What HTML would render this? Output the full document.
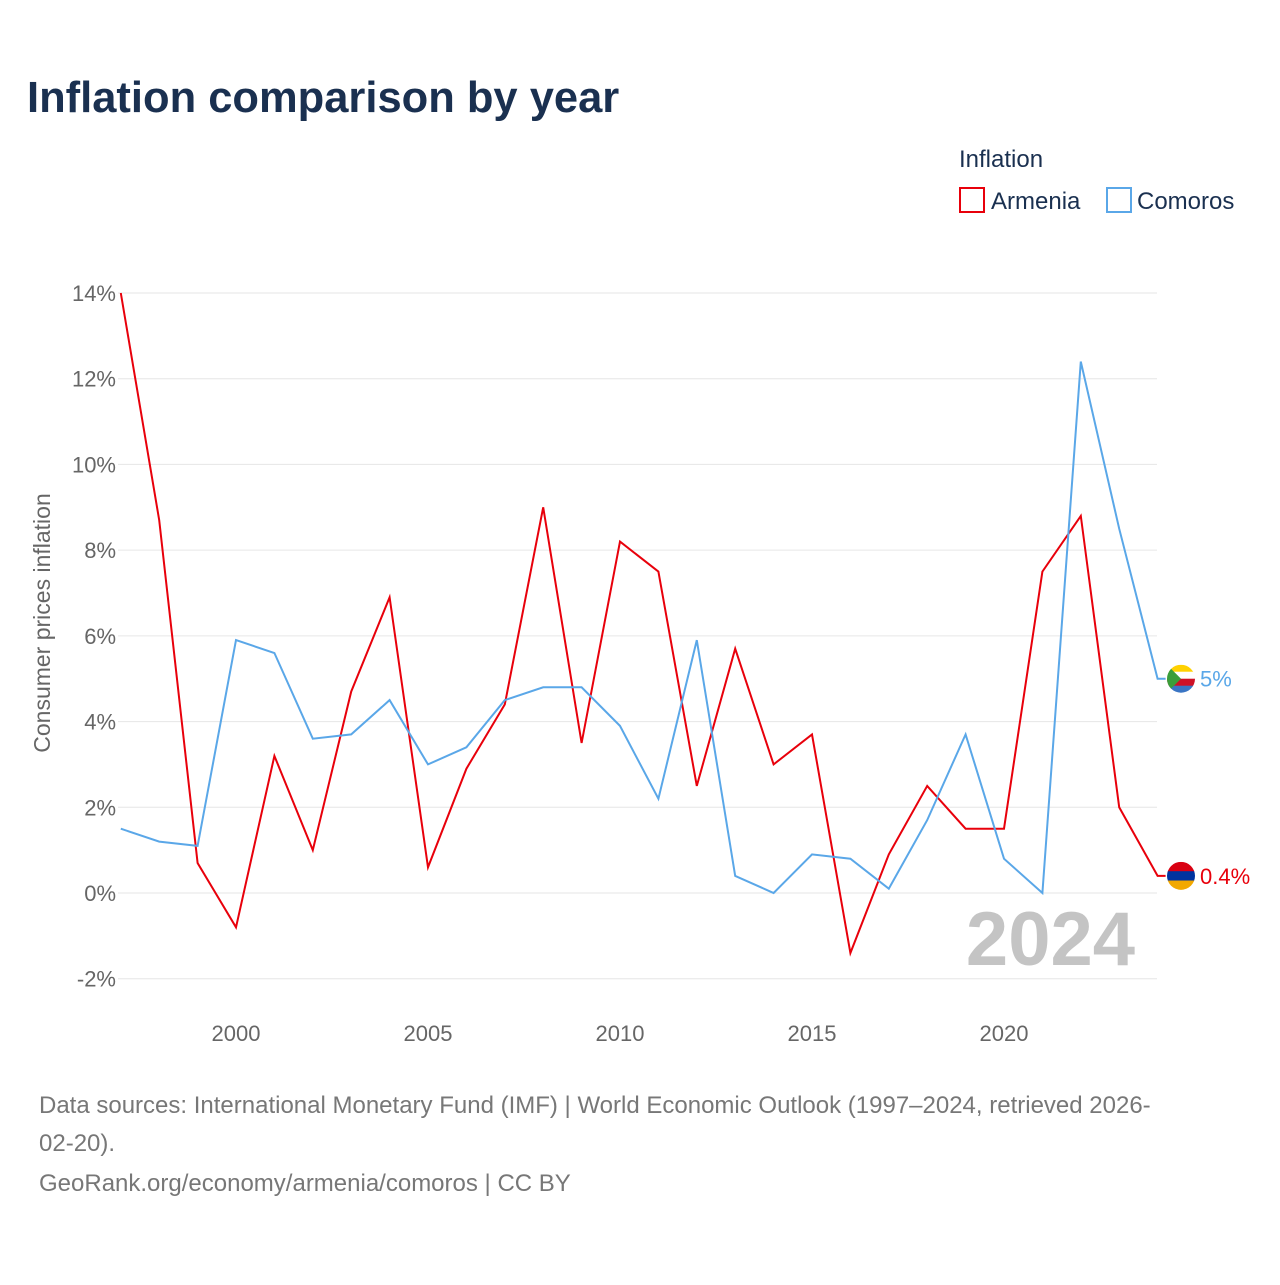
<!DOCTYPE html>
<html><head><meta charset="utf-8"><style>
body{margin:0;background:#fff;font-family:"Liberation Sans",sans-serif;}
svg text{font-family:"Liberation Sans",sans-serif;}
</style></head><body>
<svg id="chart" width="1280" height="1280" xmlns="http://www.w3.org/2000/svg">
<rect width="1280" height="1280" fill="#fff"/>
<text x="27" y="112" font-size="43.5" font-weight="bold" fill="#1a3050">Inflation comparison by year</text>
<text x="959" y="167" font-size="24" fill="#1a3050">Inflation</text>
<g><rect x="960" y="188" width="24" height="24" fill="none" stroke="#e8000b" stroke-width="2"/><text x="991" y="209" font-size="24" fill="#1a3050">Armenia</text></g>
<g><rect x="1107" y="188" width="24" height="24" fill="none" stroke="#5aa7e8" stroke-width="2"/><text x="1137" y="209" font-size="24" fill="#1a3050">Comoros</text></g>
<g id="grid"></g><g id="ticks"></g>
<text transform="translate(50,623) rotate(-90)" text-anchor="middle" font-size="23" fill="#666">Consumer prices inflation</text>
<text x="1135" y="965" text-anchor="end" font-size="76" font-weight="bold" fill="#c4c4c4">2024</text>
<g id="series"></g>
<text font-size="24" fill="#777"><tspan x="39" y="1113">Data sources: International Monetary Fund (IMF) | World Economic Outlook (1997–2024, retrieved 2026-</tspan><tspan x="39" y="1151">02-20).</tspan><tspan x="39" y="1191">GeoRank.org/economy/armenia/comoros | CC BY</tspan></text>
</svg>
<script>
const years=[1997,1998,1999,2000,2001,2002,2003,2004,2005,2006,2007,2008,2009,2010,2011,2012,2013,2014,2015,2016,2017,2018,2019,2020,2021,2022,2023,2024];
const armenia=[14.0,8.7,0.7,-0.8,3.2,1.0,4.7,6.9,0.6,2.9,4.4,9.0,3.5,8.2,7.5,2.5,5.7,3.0,3.7,-1.4,0.9,2.5,1.5,1.5,7.5,8.8,2.0,0.4];
const comoros=[1.5,1.2,1.1,5.9,5.6,3.6,3.7,4.5,3.0,3.4,4.5,4.8,4.8,3.9,2.2,5.9,0.4,0.0,0.9,0.8,0.1,1.7,3.7,0.8,0.0,12.4,8.5,5.0];
const yTicks=[-2,0,2,4,6,8,10,12,14];
const xTicks=[2000,2005,2010,2015,2020];
const NS="http://www.w3.org/2000/svg";
const x=v=>236+(v-2000)*38.4;
const y=v=>893-v*(600/14);
function mk(t,a,p){const e=document.createElementNS(NS,t);for(const k in a)e.setAttribute(k,a[k]);p.appendChild(e);return e;}
const grid=document.getElementById('grid'),ticks=document.getElementById('ticks'),ser=document.getElementById('series');
yTicks.forEach(v=>{
 const l=mk('line',{x1:118,x2:1157,y1:y(v),y2:y(v),stroke:'#e6e6e6','stroke-width':1},grid);
 
 
 const t=mk('text',{x:116,y:y(v)+8,'text-anchor':'end','font-size':22,fill:'#666'},ticks);
 t.textContent=v+'%';
 
 
});
xTicks.forEach(v=>{
 const t=mk('text',{x:x(v),y:1041,'text-anchor':'middle','font-size':22,fill:'#666'},ticks);
 t.textContent=v;
 
 
});
function line(data,color,name){
 let d=data.map((v,i)=>(i?'L':'M')+x(years[i]).toFixed(1)+' '+y(v).toFixed(1)).join(' ');
 const last=data[data.length-1];
 d+=' L'+(x(years[years.length-1])+8)+' '+y(last).toFixed(1);
 const p=mk('path',{d:d,fill:'none',stroke:color,'stroke-width':2},ser);
 
 
 return y(last);
}
const ya=line(armenia,'#e8000b','armenia');
const yc=line(comoros,'#5aa7e8','comoros');
function flag(cy,cols,name){
 const g=mk('g',{},ser);
 
 
 const id='c'+name;
 const cp=mk('clipPath',{id:id},g);mk('circle',{cx:1181,cy:cy,r:14},cp);
 cols.forEach((c,i)=>mk('rect',{x:1167,y:cy-14+i*28/cols.length,width:28,height:28/cols.length+0.5,fill:c,'clip-path':'url(#'+id+')'},g));
 return id;
}
flag(ya,['#d90012','#0033a0','#f2a800'],'armenia');
const cid=flag(yc,['#ffd100','#ffffff','#ce1126','#3a75c4'],'comoros');
mk('path',{d:'M1167 '+(yc-14)+' L1181 '+yc+' L1167 '+(yc+14)+' Z',fill:'#3a9e3a','clip-path':'url(#'+cid+')'},ser);
const la=mk('text',{x:1200,y:ya+8,'font-size':22,fill:'#e8000b'},ser);la.textContent=armenia[armenia.length-1]+'%';


const lc=mk('text',{x:1200,y:yc+8,'font-size':22,fill:'#5aa7e8'},ser);lc.textContent=comoros[comoros.length-1]+'%';


</script>
</body></html>
